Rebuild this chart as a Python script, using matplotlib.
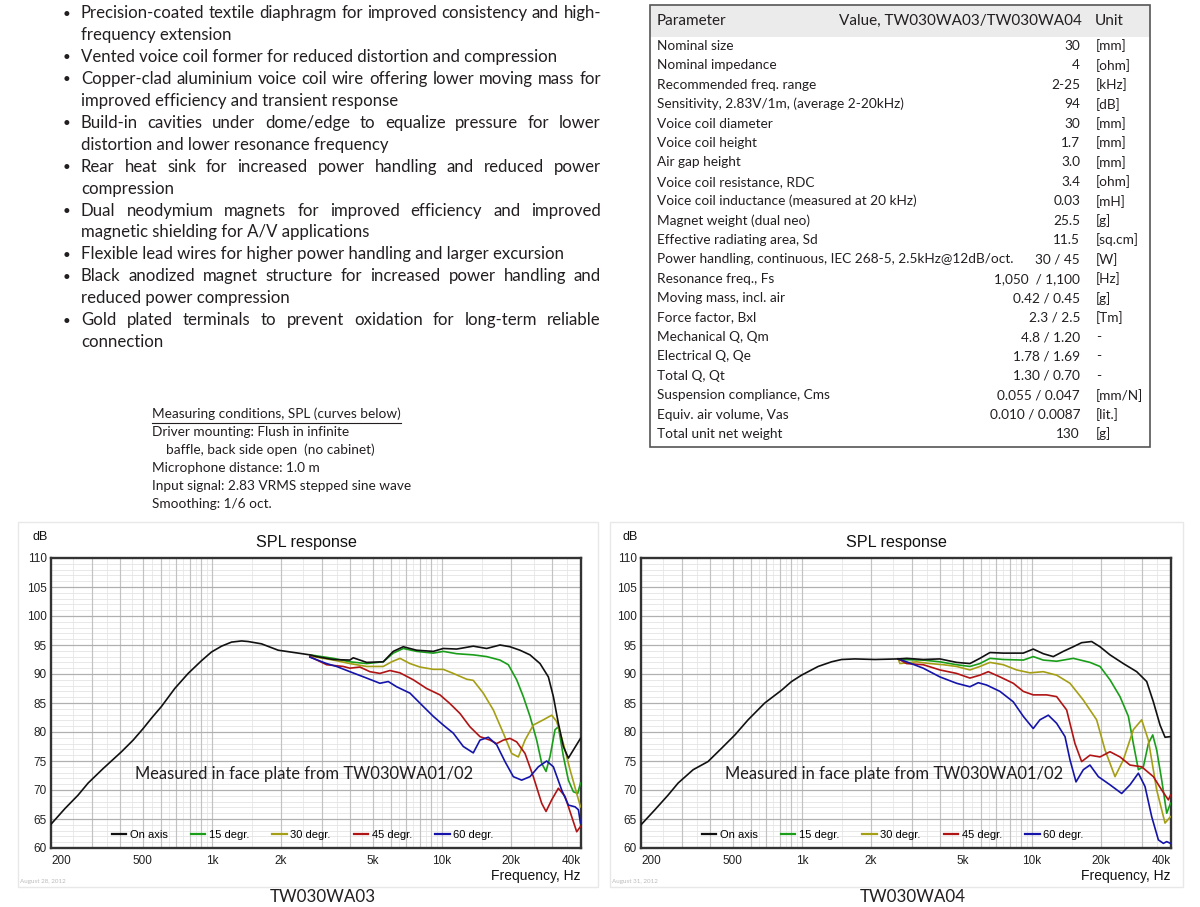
import matplotlib
matplotlib.use("Agg")
import matplotlib.pyplot as plt
from matplotlib.lines import Line2D
from matplotlib.patches import Rectangle

# ---------------- data ----------------
features = [
    ["Precision-coated textile diaphragm for improved consistency and high-", "frequency extension"],
    ["Vented voice coil former for reduced distortion and compression"],
    ["Copper-clad aluminium voice coil wire offering lower moving mass for", "improved efficiency and transient response"],
    ["Build-in cavities under dome/edge to equalize pressure for lower", "distortion and lower resonance frequency"],
    ["Rear heat sink for increased power handling and reduced power", "compression"],
    ["Dual neodymium magnets for improved efficiency and improved", "magnetic shielding for A/V applications"],
    ["Flexible lead wires for higher power handling and larger excursion"],
    ["Black anodized magnet structure for increased power handling and", "reduced power compression"],
    ["Gold plated terminals to prevent oxidation for long-term reliable", "connection"],
]

table_header = ["Parameter", "Value, TW030WA03/TW030WA04", "Unit"]
params = ["Nominal size", "Nominal impedance", "Recommended freq. range",
          "Sensitivity, 2.83V/1m, (average 2-20kHz)", "Voice coil diameter", "Voice coil height",
          "Air gap height", "Voice coil resistance, RDC", "Voice coil inductance (measured at 20 kHz)",
          "Magnet weight (dual neo)", "Effective radiating area, Sd",
          "Power handling, continuous, IEC 268-5, 2.5kHz@12dB/oct.", "Resonance freq., Fs",
          "Moving mass, incl. air", "Force factor, Bxl", "Mechanical Q, Qm", "Electrical Q, Qe",
          "Total Q, Qt", "Suspension compliance, Cms", "Equiv. air volume, Vas", "Total unit net weight"]
values = ["30", "4", "2-25", "94", "30", "1.7", "3.0", "3.4", "0.03", "25.5", "11.5", "30 / 45",
          "1,050  / 1,100", "0.42 / 0.45", "2.3 / 2.5", "4.8 / 1.20", "1.78 / 1.69", "1.30 / 0.70",
          "0.055 / 0.047", "0.010 / 0.0087", "130"]
units = ["[mm]", "[ohm]", "[kHz]", "[dB]", "[mm]", "[mm]", "[mm]", "[ohm]", "[mH]", "[g]", "[sq.cm]",
         "[W]", "[Hz]", "[g]", "[Tm]", "-", "-", "-", "[mm/N]", "[lit.]", "[g]"]

conditions = ["Measuring conditions, SPL (curves below)",
              "Driver mounting: Flush in infinite",
              "    baffle, back side open  (no cabinet)",
              "Microphone distance: 1.0 m",
              "Input signal: 2.83 VRMS stepped sine wave",
              "Smoothing: 1/6 oct."]

legend_labels = ["On axis", "15 degr.", "30 degr.", "45 degr.", "60 degr."]
x_tick_vals = [200, 500, 1000, 2000, 5000, 10000, 20000, 40000]
x_tick_labels = ["200", "500", "1k", "2k", "5k", "10k", "20k", "40k"]
y_tick_vals = list(range(60, 111, 5))

# TW030WA03 (left chart)
a_on_f = [200, 230, 262, 290, 337, 405, 455, 503, 547, 604, 690, 789, 902, 997, 1102, 1218, 1346, 1438,
          1644, 1943, 2373, 2667, 2852, 3370, 3981, 4116, 4704, 5557, 6142, 6791, 7762, 9169, 10130,
          11580, 13680, 15640, 17870, 19750, 21830, 24130, 26680, 29000, 30490, 32050, 33700, 35430,
          37240, 40000]
a_on_db = [64.1, 66.8, 69.1, 71.2, 73.7, 76.6, 78.6, 80.6, 82.4, 84.4, 87.5, 90.1, 92.3, 93.8, 94.8,
           95.5, 95.7, 95.6, 95.2, 94.1, 93.6, 93.3, 93.0, 92.5, 92.4, 92.8, 92.0, 92.1, 93.9, 94.7,
           94.1, 93.9, 94.4, 94.3, 94.8, 94.4, 95.0, 94.7, 94.1, 93.3, 91.8, 89.5, 86.1, 81.5, 77.5,
           75.5, 76.9, 78.9]
a_15_f = [2668, 3370, 3981, 4704, 5557, 6142, 6791, 7762, 9169, 10130, 11580, 13680, 15640, 17870,
          19430, 21120, 22570, 24130, 25800, 27130, 28330, 29490, 31000, 32050, 33700, 35430, 37240,
          38900, 40000]
a_15_db = [93.3, 92.7, 92.1, 91.8, 92.1, 93.6, 94.4, 93.9, 93.6, 93.9, 93.5, 93.3, 93.0, 92.4, 91.6,
           89.0, 86.1, 82.7, 78.6, 74.6, 73.2, 75.8, 80.4, 80.9, 75.8, 71.7, 69.7, 69.4, 71.2]
a_30_f = [2668, 3370, 3981, 4704, 5557, 6041, 6568, 7261, 8025, 9169, 10130, 11200, 12800, 13680,
          15120, 16720, 18480, 20090, 21470, 22960, 24950, 27580, 29980, 31520, 33700, 36020, 38510,
          40000]
a_30_db = [93.1, 92.4, 91.8, 91.3, 91.3, 92.1, 92.7, 91.8, 91.2, 90.8, 90.8, 90.1, 89.1, 88.9, 86.7,
           83.8, 79.8, 76.3, 75.7, 78.6, 81.2, 82.1, 82.9, 81.8, 78.0, 73.5, 69.4, 67.1]
a_45_f = [2668, 3152, 3724, 3981, 4400, 4864, 5375, 5941, 6568, 7507, 8578, 9802, 10830, 11970, 13230,
          14630, 16170, 17290, 18480, 19750, 21120, 22960, 24950, 27130, 28330, 29980, 32050, 34260,
          36630, 38510, 40000]
a_45_db = [93.0, 91.6, 91.3, 91.0, 91.2, 90.4, 90.1, 90.6, 90.2, 89.0, 87.5, 86.4, 84.9, 83.2, 80.9,
           79.2, 78.6, 78.0, 78.6, 78.9, 78.3, 76.3, 72.3, 67.7, 66.3, 68.3, 70.3, 68.9, 65.4, 62.8, 63.7]
a_60_f = [2668, 3152, 3483, 3981, 4704, 5375, 5843, 6353, 7261, 8296, 9169, 10130, 11200, 12380, 13680,
          14630, 15900, 17290, 18790, 20420, 22200, 24130, 26240, 28520, 30490, 33140, 35430, 37870,
          39150, 40000]
a_60_db = [92.9, 91.8, 91.3, 90.4, 89.3, 88.4, 88.7, 87.8, 86.7, 84.4, 82.7, 81.2, 79.8, 77.5, 76.4,
           78.6, 79.1, 77.8, 74.9, 72.3, 71.7, 72.3, 74.0, 75.0, 74.0, 70.0, 67.4, 67.1, 66.6, 64.3]

# TW030WA04 (right chart)
b_on_f = [200, 230, 262, 290, 337, 391, 448, 512, 584, 690, 816, 902, 997, 1177, 1346, 1488, 1700,
          2077, 2623, 2852, 3370, 3981, 4704, 5375, 5941, 6568, 7507, 9169, 10130, 11200, 12380,
          13680, 15120, 16440, 18170, 19750, 21830, 24950, 28520, 31520, 33700, 36020, 37870, 40000]
b_on_db = [64.0, 66.6, 69.1, 71.2, 73.5, 74.9, 77.2, 79.5, 82.1, 85.0, 87.2, 88.7, 89.8, 91.3, 92.1,
           92.5, 92.6, 92.5, 92.6, 92.7, 92.5, 92.6, 92.0, 91.8, 92.7, 93.7, 93.6, 93.6, 94.3, 93.5,
           93.0, 93.9, 94.7, 95.4, 95.6, 94.7, 93.3, 91.8, 90.4, 88.7, 85.2, 81.2, 79.1, 79.2]
b_15_f = [2623, 2668, 3370, 3981, 4704, 5375, 5941, 6568, 7507, 9169, 10130, 11200, 12800, 15120,
          17870, 19750, 21830, 24130, 26240, 27580, 29000, 30490, 32050, 33480, 34840, 36630, 38510,
          40000]
b_15_db = [92.6, 92.5, 92.4, 92.1, 91.6, 91.3, 91.8, 92.7, 92.5, 92.4, 93.0, 92.4, 92.2, 92.7, 92.0,
           91.3, 89.0, 86.1, 82.7, 78.0, 73.5, 74.0, 78.0, 79.5, 76.9, 71.7, 66.0, 67.7]
b_30_f = [2623, 2668, 3152, 3602, 4116, 4704, 5375, 5941, 6568, 7507, 8578, 9802, 11200, 12800, 14630,
          16720, 19100, 20770, 22960, 24950, 27580, 29980, 32050, 34840, 37870, 40000]
b_30_db = [92.6, 91.8, 92.1, 91.8, 91.6, 91.3, 90.7, 91.3, 92.0, 91.6, 90.7, 90.2, 90.4, 89.8, 88.4,
           85.5, 82.1, 76.9, 72.3, 75.2, 80.4, 82.1, 78.6, 70.0, 64.3, 65.4]
b_45_f = [2623, 2852, 3370, 3981, 4704, 5375, 5941, 6459, 7261, 8296, 9169, 10130, 11580, 12800, 14150,
          15380, 16440, 17870, 19750, 21830, 24130, 26680, 29980, 33700, 36630, 39150, 40000]
b_45_db = [92.6, 91.8, 91.6, 90.7, 90.1, 89.3, 89.8, 90.4, 89.5, 88.4, 87.0, 86.4, 86.4, 86.1, 83.8,
           78.0, 74.9, 76.0, 75.7, 76.6, 75.7, 74.3, 74.0, 72.3, 70.0, 68.3, 69.1]
b_60_f = [2623, 2852, 3370, 3981, 4704, 5375, 5843, 6353, 7261, 8296, 9169, 10130, 10830, 11780, 12800,
          13920, 14630, 15540, 16720, 17870, 19430, 21830, 24540, 26680, 29000, 31000, 33140, 35430,
          37240, 38510, 40000]
b_60_db = [92.6, 92.1, 91.0, 89.5, 88.4, 87.8, 88.5, 88.1, 87.0, 85.2, 82.7, 80.6, 82.1, 82.9, 81.5,
           79.2, 75.2, 71.4, 73.5, 74.3, 72.3, 70.9, 69.4, 70.9, 72.9, 70.6, 65.4, 61.4, 60.8, 61.1, 60.8]

curve_colors = ["#111111", "#1a9e1a", "#a59f16", "#b01414", "#1414aa"]

# ---------------- figure ----------------
W, H = 1200, 907
fig = plt.figure(figsize=(12, 9.07), dpi=100)
fig.patch.set_facecolor("white")
renderer = fig.canvas.get_renderer()
TXT = "#231f20"
BODY = "Lato"
CHART = "Liberation Sans"


def fx(x):
    return x / W


def fy(y):
    return 1 - y / H


def text_width(s, **kw):
    t = fig.text(0, 0, s, **kw)
    w = t.get_window_extent(renderer).width
    t.remove()
    return w


def fit_size(s, target, family, base=10.0):
    return base * target / text_width(s, fontsize=base, family=family)


# ---------------- bullet list (justified) ----------------
X0, X1 = 81, 601
fs_b = fit_size(features[0][0], X1 - X0, BODY)
y = 13.0
step = 21.95
for item in features:
    fig.text(fx(66), fy(y + 0.5), "\u2022", fontsize=fs_b * 0.8, family=BODY, color=TXT, ha="center",
             va="center")
    for i, line in enumerate(item):
        last = (i == len(item) - 1)
        if last:
            fig.text(fx(X0), fy(y), line, fontsize=fs_b, family=BODY, color=TXT, ha="left", va="center")
        else:
            words = line.split()
            widths = [text_width(w, fontsize=fs_b, family=BODY) for w in words]
            gap = (X1 - X0 - sum(widths)) / (len(words) - 1)
            x = X0
            for w, wd in zip(words, widths):
                fig.text(fx(x), fy(y), w, fontsize=fs_b, family=BODY, color=TXT, ha="left", va="center")
                x += wd + gap
        y += step

# ---------------- parameter table ----------------
TL, TR, TT, TB = 650, 1150, 5, 447
fig.add_artist(Rectangle((fx(TL), fy(37)), (TR - TL) / W, 32 / H, transform=fig.transFigure,
                         facecolor="#ebebeb", edgecolor="none", zorder=0))
fig.add_artist(Rectangle((fx(TL), fy(TB)), (TR - TL) / W, (TB - TT) / H, transform=fig.transFigure,
                         facecolor="none", edgecolor="#555555", lw=1.2, zorder=3))
fs_h = fit_size(table_header[1], 242, BODY)
fig.text(fx(657), fy(21), table_header[0], fontsize=fs_h, family=BODY, color=TXT, va="center")
fig.text(fx(1082), fy(21), table_header[1], fontsize=fs_h, family=BODY, color=TXT, va="center", ha="right")
fig.text(fx(1095), fy(21), table_header[2], fontsize=fs_h, family=BODY, color=TXT, va="center")
fs_t = fit_size(params[8], 258, BODY)
for i, (p, v, u) in enumerate(zip(params, values, units)):
    yy = 46 + i * 19.4
    fig.text(fx(657), fy(yy), p, fontsize=fs_t, family=BODY, color=TXT, va="center")
    fig.text(fx(1080), fy(yy), v, fontsize=fs_t, family=BODY, color=TXT, va="center", ha="right")
    fig.text(fx(1096), fy(yy), u, fontsize=fs_t, family=BODY, color=TXT, va="center")

# ---------------- measuring conditions ----------------
fs_c = fit_size(conditions[4], 258, BODY)
for i, line in enumerate(conditions):
    yy = 414 + i * 18.0
    fig.text(fx(152), fy(yy), line, fontsize=fs_c, family=BODY, color=TXT, va="center")
uw = text_width(conditions[0], fontsize=fs_c, family=BODY)
fig.add_artist(Line2D([fx(152), fx(152 + uw)], [fy(422.5), fy(422.5)], transform=fig.transFigure,
                      color=TXT, lw=0.8))


# ---------------- SPL charts ----------------
def draw_chart(left_px, frame, series, date_text, caption):
    fl, fr = frame
    fig.add_artist(Rectangle((fx(fl), fy(887)), (fr - fl) / W, (887 - 522) / H, transform=fig.transFigure,
                             facecolor="none", edgecolor="#e8e8e8", lw=1.0, zorder=0))
    ax = fig.add_axes([fx(left_px), fy(848), 529.5 / W, 290 / H])
    ax.set_xscale("log")
    ax.set_xlim(200, 40000)
    ax.set_ylim(60, 110)
    for dec in (100, 1000, 10000):
        for n in range(1, 10):
            f = n * dec
            if 200 < f < 40000:
                ax.axvline(f, color="#c2c2c2", lw=0.85, zorder=0.5)
            fh = (n + 0.5) * dec
            if 200 < fh < 40000:
                ax.axvline(fh, color="#e6e6e6", lw=0.6, zorder=0.4)
    for d in range(61, 110):
        if d % 5:
            ax.axhline(d, color="#e4e4e4", lw=0.6, zorder=0.4)
        else:
            ax.axhline(d, color="#b0b0b0", lw=0.9, zorder=0.6)
    handles = []
    for (fv, dv), col, lab in zip(series, curve_colors, legend_labels):
        ln, = ax.plot(fv, dv, color=col, lw=1.2, zorder=3, label=lab, solid_joinstyle="round")
        handles.append(ln)
    handles[0].set_zorder(4)
    ax.set_xticks(x_tick_vals)
    ax.set_xticklabels(x_tick_labels)
    ax.xaxis.set_minor_locator(matplotlib.ticker.NullLocator())
    ax.set_yticks(y_tick_vals)
    ax.set_yticklabels([str(v) for v in y_tick_vals])
    ax.tick_params(length=0, labelsize=8.5, colors="#222222")
    ax.tick_params(axis="x", pad=5)
    ax.tick_params(axis="y", pad=3)
    for lab in ax.get_xticklabels() + ax.get_yticklabels():
        lab.set_family(CHART)
    xl = ax.get_xticklabels()
    xl[0].set_ha("left")
    xl[-1].set_ha("right")
    for s in ax.spines.values():
        s.set_linewidth(1.7)
        s.set_color("#333333")
    leg = ax.legend(handles=handles, ncol=5, loc="center", bbox_to_anchor=(0.475, 0.045), frameon=False,
                    prop={"family": CHART, "size": 8}, handlelength=1.3, handletextpad=0.3,
                    columnspacing=2.1)
    for h in leg.get_lines():
        h.set_linewidth(1.6)
    fs_a = fit_size("Measured in face plate from TW030WA01/02", 339, BODY)
    fig.text(fx(left_px + 84), fy(774), "Measured in face plate from TW030WA01/02", fontsize=fs_a,
             family=BODY, color=TXT, va="center")
    cx = left_px + 255.5
    fig.text(fx(cx), fy(543), "SPL response", fontsize=11.6, family=CHART, color="#111", ha="center",
             va="center")
    fig.text(fx(left_px - 11), fy(537), "dB", fontsize=9, family=CHART, color="#111", ha="center",
             va="center")
    fig.text(fx(left_px + 529.5), fy(876), "Frequency, Hz", fontsize=10, family=CHART, color="#111",
             ha="right", va="center")
    fig.text(fx(fl + 2), fy(882), date_text, fontsize=4.5, family=BODY, color="#bbbbbb", va="center")
    fs_cap = fit_size(caption, 106, BODY)
    fig.text(fx(left_px + 272), fy(897), caption, fontsize=fs_cap, family=BODY, color=TXT, ha="center",
             va="center")
    return ax


draw_chart(51, (18, 598),
           [(a_on_f, a_on_db), (a_15_f, a_15_db), (a_30_f, a_30_db), (a_45_f, a_45_db), (a_60_f, a_60_db)],
           "August 28, 2012", "TW030WA03")
draw_chart(641, (610, 1183),
           [(b_on_f, b_on_db), (b_15_f, b_15_db), (b_30_f, b_30_db), (b_45_f, b_45_db), (b_60_f, b_60_db)],
           "August 31, 2012", "TW030WA04")

fig.savefig("out.png", dpi=100, facecolor="white")
